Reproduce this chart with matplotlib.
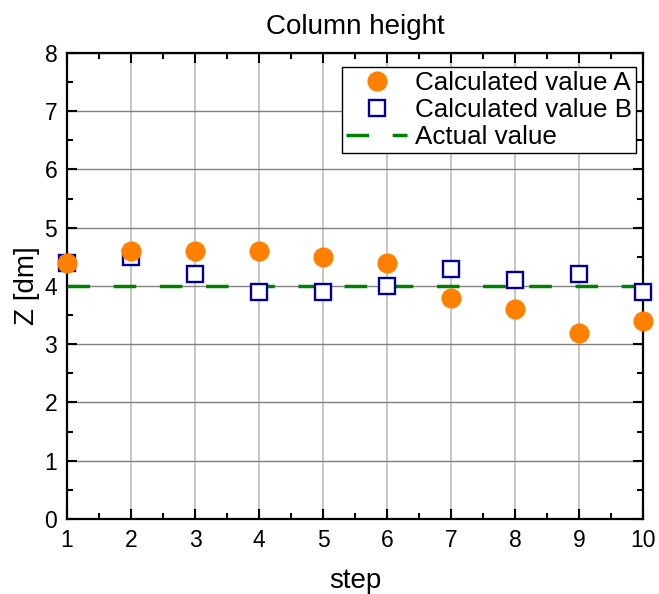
import numpy as np
import matplotlib.pyplot as plt
from matplotlib.ticker import MultipleLocator

plt.rcParams['font.family'] = ['Liberation Sans', 'DejaVu Sans']

steps = [1, 2, 3, 4, 5, 6, 7, 8, 9, 10]
calc_a = [4.4, 4.6, 4.6, 4.6, 4.5, 4.4, 3.8, 3.6, 3.2, 3.4]
calc_b = [4.4, 4.5, 4.2, 3.9, 3.9, 4.0, 4.3, 4.1, 4.2, 3.9]
actual = [4.0] * len(steps)

fig = plt.figure(figsize=(6.59, 5.94), dpi=100)
ax = fig.add_axes([0.1017, 0.1263, 0.874, 0.7845])

ax.plot(steps, actual, color='#008000', lw=2.5, dashes=(6.5, 6.8),
        label='Actual value', zorder=3)
ax.plot(steps, calc_b, ls='none', marker='s', ms=11, mfc='white',
        mec='#000099', mew=1.7, label='Calculated value B', clip_on=False, zorder=4)
ax.plot(steps, calc_a, ls='none', marker='o', ms=13.5, color='#ff8000',
        label='Calculated value A', clip_on=False, zorder=5)

ax.set_xlim(1, 10)
ax.set_ylim(0, 8)
ax.xaxis.set_major_locator(MultipleLocator(1))
ax.xaxis.set_minor_locator(MultipleLocator(0.5))
ax.yaxis.set_major_locator(MultipleLocator(1))
ax.yaxis.set_minor_locator(MultipleLocator(0.5))
ax.tick_params(which='both', direction='in', top=True, right=True, width=1.5, labelsize=16.5)
ax.tick_params(which='major', length=7, pad=7)
ax.tick_params(which='minor', length=4)
for s in ax.spines.values():
    s.set_linewidth(1.6)

ax.xaxis.grid(True, color='#c0c0c0', lw=1.3)
ax.yaxis.grid(True, color='#808080', lw=1.0)
ax.set_axisbelow(True)

ax.set_title('Column height', fontsize=20, pad=14)
ax.set_xlabel('step', fontsize=20, labelpad=12)
ax.set_ylabel('Z [dm]', fontsize=20, labelpad=3)

h, l = ax.get_legend_handles_labels()
leg = ax.legend(h[::-1], l[::-1], loc='upper right', fontsize=18.7, fancybox=False,
                edgecolor='black', framealpha=1, borderpad=0.15, handlelength=2.35,
                handletextpad=0.3, labelspacing=0.12, borderaxespad=0,
                bbox_to_anchor=(0.988, 0.970))
leg.get_frame().set_linewidth(1.0)

fig.savefig('out.png', dpi=100)
